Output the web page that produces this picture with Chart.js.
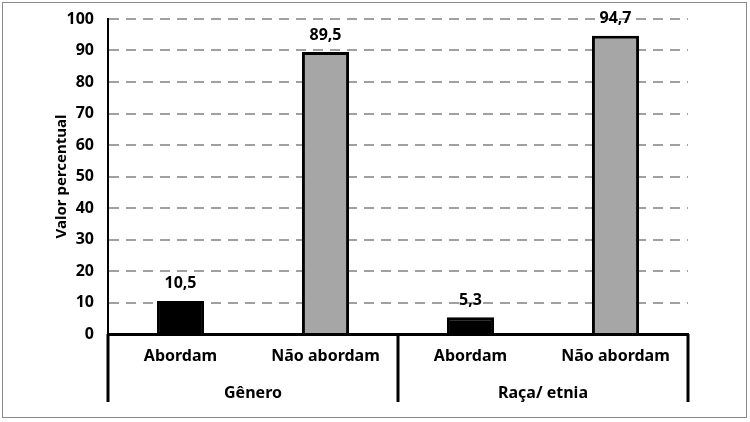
<!DOCTYPE html>
<html>
<head>
<meta charset="utf-8">
<script src="https://cdn.jsdelivr.net/npm/chart.js@4"></script>
<style>
  html, body { margin: 0; padding: 0; background: #fff; }
  #wrap { position: relative; width: 750px; height: 422px; }
  #frame { position: absolute; left: 2px; top: 2px; width: 745px; height: 416px; box-sizing: border-box; border: 1px solid #8a8a8a; pointer-events: none; }
</style>
</head>
<body>
<div id="wrap">
  <canvas id="c" width="750" height="422"></canvas>
  <div id="frame"></div>
</div>
<script>
const categories = ['Abordam', 'Não abordam', 'Abordam', 'Não abordam'];
const groups = ['Gênero', 'Raça/ etnia'];
const values = [10.5, 89.5, 5.3, 94.7];
const valueLabels = ['10,5', '89,5', '5,3', '94,7'];
const yTicks = [0, 10, 20, 30, 40, 50, 60, 70, 80, 90, 100];
const barColors = ['#000000', '#a6a6a6', '#000000', '#a6a6a6'];

const FONT = '"Noto Sans", "Open Sans", sans-serif';

const valueLabelPlugin = {
  id: 'valueLabels',
  afterDatasetsDraw(chart) {
    const ctx = chart.ctx;
    const meta = chart.getDatasetMeta(0);
    ctx.save();
    ctx.font = 'bold 16px ' + FONT;
    ctx.fillStyle = '#000';
    ctx.textAlign = 'center';
    ctx.textBaseline = 'middle';
    meta.data.forEach((bar, i) => {
      ctx.fillText(valueLabels[i], bar.x, bar.y - 17);
    });
    ctx.restore();
  }
};

const groupLinesPlugin = {
  id: 'groupLines',
  afterDraw(chart) {
    const xs = chart.scales.x;
    const x2 = chart.scales.x2;
    const ctx = chart.ctx;
    const n = categories.length;
    const positions = [xs.left, (xs.getPixelForValue(n / 2 - 1) + xs.getPixelForValue(n / 2)) / 2, xs.right];
    ctx.save();
    ctx.strokeStyle = '#000';
    ctx.lineWidth = 3;
    positions.forEach(px => {
      ctx.beginPath();
      ctx.moveTo(px, chart.chartArea.bottom);
      ctx.lineTo(px, x2.bottom - 4);
      ctx.stroke();
    });
    ctx.restore();
  }
};

new Chart(document.getElementById('c'), {
  type: 'bar',
  data: {
    labels: categories,
    datasets: [{
      data: values,
      backgroundColor: barColors,
      borderColor: '#000',
      borderWidth: 3,
      borderSkipped: 'bottom',
      categoryPercentage: 1.0,
      barPercentage: 0.325,
      xAxisID: 'x',
      yAxisID: 'y'
    }]
  },
  options: {
    responsive: false,
    animation: false,
    devicePixelRatio: 1,
    layout: { padding: { left: 49, right: 62, top: 19, bottom: 16 } },
    plugins: {
      legend: { display: false },
      tooltip: { enabled: false }
    },
    scales: {
      y: {
        min: 0,
        max: 100,
        afterFit(scale) { scale.width = 59; scale.paddingTop = 0; scale.paddingBottom = 0; },
        afterBuildTicks(scale) { scale.ticks = yTicks.map(v => ({ value: v })); },
        ticks: {
          color: '#000',
          font: { family: FONT, size: 16, weight: 'bold' },
          padding: 14
        },
        grid: {
          color: '#a0a0a0',
          lineWidth: 2,
          drawTicks: false
        },
        border: { display: true, color: '#000', width: 2, dash: [10, 7] },
        title: {
          display: true,
          text: 'Valor percentual',
          color: '#000',
          font: { family: FONT, size: 15, weight: 'bold' },
          padding: { top: 4, bottom: 0 }
        }
      },
      x: {
        weight: 0,
        afterFit(scale) { scale.height = 45; },
        ticks: {
          color: '#000',
          font: { family: FONT, size: 16, weight: 'bold' },
          padding: 13,
          maxRotation: 0,
          autoSkip: false
        },
        grid: { display: false, drawTicks: false },
        border: { display: true, color: '#000', width: 3 }
      },
      x2: {
        type: 'category',
        position: 'bottom',
        weight: 1,
        labels: groups,
        afterFit(scale) { scale.height = 27; },
        ticks: {
          color: '#000',
          font: { family: FONT, size: 16, weight: 'bold' },
          padding: 5,
          maxRotation: 0,
          autoSkip: false
        },
        grid: { display: false, drawTicks: false },
        border: { display: false }
      }
    }
  },
  plugins: [valueLabelPlugin, groupLinesPlugin]
});
</script>
</body>
</html>
